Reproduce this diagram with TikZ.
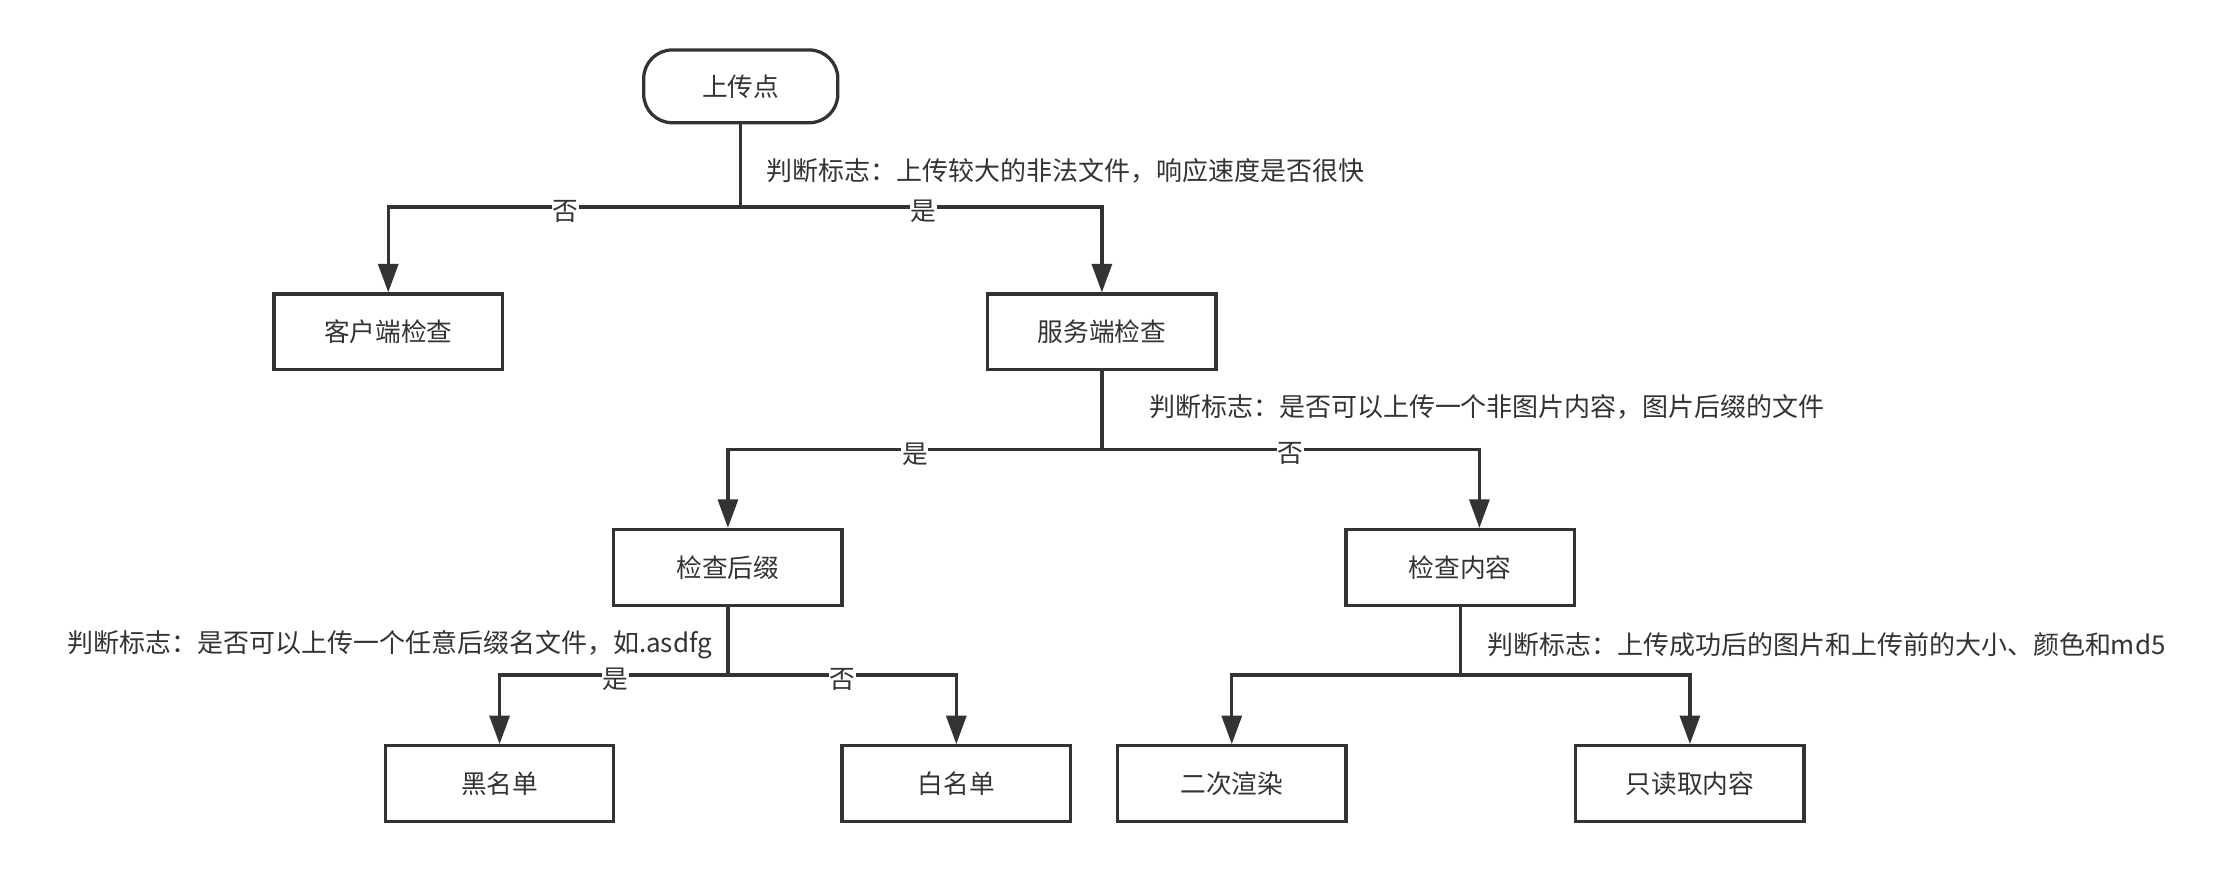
\documentclass[tikz,border=0pt]{standalone}
\usepackage{fontspec}
\newfontfamily\cjk{Noto Sans CJK SC}
\usetikzlibrary{arrows.meta}
\definecolor{ink}{HTML}{333333}
\tikzset{
  box/.style={draw=ink, line width=2.3pt, minimum width=160pt, minimum height=53pt, inner sep=0pt, text=ink, font=\cjk\fontsize{18}{21}\selectfont},
  startbox/.style={box, rounded corners=20pt, minimum width=136pt, minimum height=51pt},
  conn/.style={draw=ink, line width=2.3pt},
  arr/.style={conn, -{Triangle[length=20pt,width=14pt]}},
  note/.style={text=ink, inner sep=0pt, font=\cjk\fontsize{18.2}{21}\selectfont},
  yn/.style={text=ink, fill=white, inner sep=0.5pt, font=\cjk\fontsize{18}{21}\selectfont},
}
\begin{document}
\begin{tikzpicture}[x=1pt,y=-1pt]
\useasboundingbox (0,0) rectangle (1568,611);
\node[startbox] (up) at (519,60.5) {上传点};
\node[box] (client) at (272,232.5) {客户端检查};
\node[box] (server) at (772,232.5) {服务端检查};
\node[box] (suffix) at (510,397.5) {检查后缀};
\node[box] (content) at (1023,397.5) {检查内容};
\node[box] (black) at (350,549) {黑名单};
\node[box] (white) at (670,549) {白名单};
\node[box] (render) at (863,549) {二次渲染};
\node[box] (readonly) at (1184,549) {只读取内容};

\coordinate (j1) at (519,145);
\coordinate (j2) at (772,315);
\coordinate (j3) at (510,473);
\coordinate (j4) at (1023,473);

\draw[conn] (up) -- (j1);
\draw[arr] (j1) -| (client);
\draw[arr] (j1) -| (server);
\draw[conn] (server) -- (j2);
\draw[arr] (j2) -| (suffix);
\draw[arr] (j2) -| ([xshift=13.5pt]content.north);
\draw[conn] (suffix) -- (j3);
\draw[arr] (j3) -| (black);
\draw[arr] (j3) -| (white);
\draw[conn] (content) -- (j4);
\draw[arr] (j4) -| (render);
\draw[arr] (j4) -| (readonly);

\node[note, anchor=west] (n1) at (537,120) {判断标志：上传较大的非法文件，响应速度是否很快};
\node[note, anchor=west] (n2) at (805,285) {判断标志：是否可以上传一个非图片内容，图片后缀的文件};
\node[note, anchor=east] (n3) at (499,452) {判断标志：是否可以上传一个任意后缀名文件，如.asdfg};
\node[note, anchor=west] (n4) at (1042,452) {判断标志：上传成功后的图片和上传前的大小、颜色和md5};

\node[yn] (y1) at (396,148) {否};
\node[yn] (y2) at (647,148) {是};
\node[yn] (y3) at (641,318) {是};
\node[yn] (y4) at (904,318) {否};
\node[yn] (y5) at (431,476) {是};
\node[yn] (y6) at (590,476) {否};
\end{tikzpicture}
\end{document}
